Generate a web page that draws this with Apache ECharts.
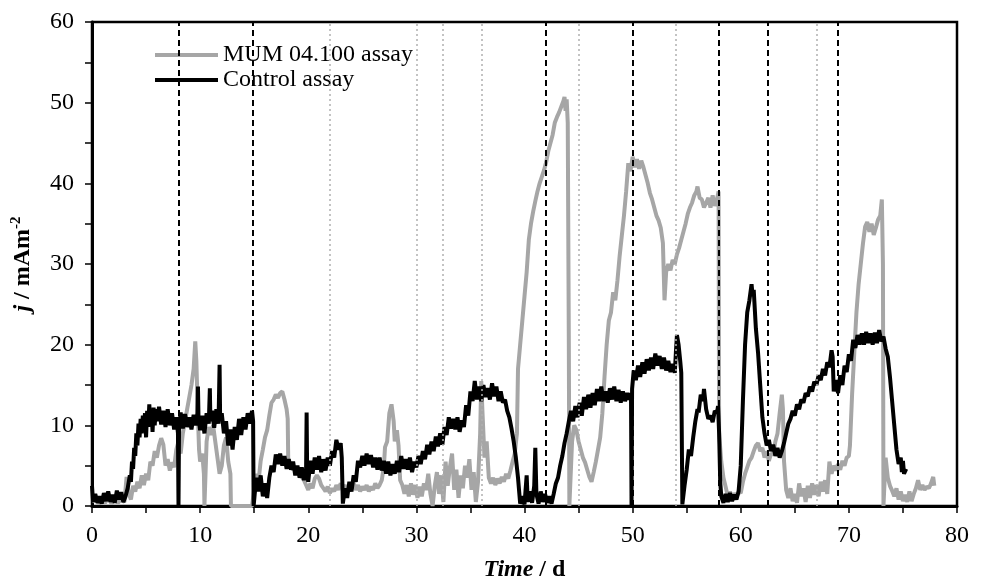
<!DOCTYPE html>
<html>
<head>
<meta charset="utf-8">
<script src="https://cdn.jsdelivr.net/npm/echarts@6/dist/echarts.min.js"></script>
<style>html,body{margin:0;padding:0;background:#fff}#c{width:981px;height:579px}</style>
</head>
<body>
<div id="c"></div>
<script>
// Tick settings
const xTicks = {min: 0, max: 80, interval: 10};
const yTicks = {min: 0, max: 60, interval: 10};

// Event markers (days)
const blackDashedDays = [8, 14.9, 42, 50, 58, 62.5, 69];
const grayDottedDays = [22, 30, 32.4, 36, 45, 54, 67];

// Series names
const seriesNames = ['MUM 04.100 assay', 'Control assay'];

// Control assay: [time (d), j (mA m^-2)]
const controlAssay = [
[0,2.5],[0.1,0.5],[0.3,1.5],[0.5,0.4],[0.7,1.2],[0.9,0.3],[1.1,1.6],[1.3,0.6],[1.5,1.8],[1.7,0.5],[1.9,1.4],[2.1,0.4],[2.3,1.9],[2.5,0.8],[2.7,1.7],[2.9,0.5],[3.1,1.2],[3.3,2.2],[3.5,3.8],[3.6,3.0],[3.7,5.5],[3.8,4.6],[3.9,7.2],[4.0,6.2],[4.1,9.0],[4.2,7.5],[4.3,10.2],[4.4,8.5],[4.5,10.8],[4.6,9.0],[4.7,11.2],[4.8,9.6],[4.9,11.5],[5.0,8.5],[5.1,11.8],[5.2,9.8],[5.3,12.6],[5.4,10.2],[5.5,11.9],[5.6,9.2],[5.7,12.2],[5.8,10.0],[5.9,12.0],[6.0,10.5],[6.2,12.3],[6.4,10.1],[6.6,11.8],[6.8,9.8],[7.0,12.0],[7.2,10.0],[7.4,11.5],[7.6,9.5],[7.8,11.0],[7.95,9.0],[8.0,0],[8.05,9.5],[8.2,11.6],[8.4,9.6],[8.6,11.4],[8.8,9.8],[9.0,11.0],[9.2,9.5],[9.4,11.3],[9.6,10.0],[9.75,11.5],[9.8,14.8],[9.85,11.0],[10.0,9.4],[10.2,11.2],[10.4,9.0],[10.6,11.5],[10.8,10.2],[10.9,14.6],[10.95,10.5],[11.1,11.8],[11.3,9.7],[11.5,12.0],[11.7,10.2],[11.8,17.5],[11.85,10.8],[12.0,11.5],[12.2,9.0],[12.4,10.5],[12.6,7.5],[12.8,9.5],[13.0,7.0],[13.2,9.8],[13.4,8.2],[13.6,10.8],[13.8,8.8],[14.0,11.0],[14.2,9.5],[14.4,11.5],[14.6,10.2],[14.8,11.8],[14.9,10.5],[14.95,0],[15.05,1.5],[15.2,3.5],[15.4,1.8],[15.6,3.8],[15.8,1.2],[16.0,2.8],[16.2,1.0],[16.4,3.5],[16.6,5.0],[16.8,4.2],[17.0,6.4],[17.2,5.2],[17.4,6.5],[17.6,5.0],[17.8,6.2],[18.0,4.6],[18.2,5.8],[18.4,4.5],[18.6,5.5],[18.8,3.8],[19.0,5.0],[19.2,3.5],[19.4,4.8],[19.6,3.2],[19.8,4.5],[19.85,11.6],[19.9,4.0],[20.0,3.0],[20.2,5.6],[20.4,4.0],[20.6,6.0],[20.8,4.5],[21.0,6.2],[21.2,4.2],[21.4,5.8],[21.6,4.4],[21.8,6.0],[22.0,5.0],[22.2,6.8],[22.4,6.0],[22.6,8.2],[22.8,7.0],[23.0,7.8],[23.1,6.0],[23.2,0.3],[23.4,2.2],[23.6,1.0],[23.8,3.0],[24.0,1.8],[24.2,3.8],[24.4,3.0],[24.6,5.6],[24.8,4.8],[25.0,6.2],[25.2,5.0],[25.4,6.5],[25.6,5.2],[25.8,6.3],[26.0,4.8],[26.2,6.0],[26.4,4.5],[26.6,6.0],[26.8,4.4],[27.0,5.6],[27.2,4.0],[27.4,5.5],[27.6,3.8],[27.8,5.2],[28.0,4.0],[28.2,5.6],[28.4,4.2],[28.6,6.2],[28.8,4.6],[29.0,5.8],[29.2,4.5],[29.4,6.0],[29.6,4.2],[29.8,5.5],[30.0,4.8],[30.2,6.2],[30.4,5.2],[30.6,6.8],[30.8,5.8],[31.0,7.6],[31.2,6.4],[31.4,8.0],[31.6,6.8],[31.8,8.6],[32.0,7.4],[32.2,9.0],[32.4,7.6],[32.6,9.8],[32.8,8.8],[33.0,11.0],[33.2,9.6],[33.4,10.8],[33.6,9.5],[33.8,11.0],[34.0,9.2],[34.2,10.6],[34.4,9.8],[34.6,12.5],[34.8,11.2],[35.0,14.2],[35.2,13.0],[35.4,15.5],[35.6,13.2],[35.8,14.8],[36.0,13.0],[36.2,15.0],[36.4,13.5],[36.6,14.6],[36.8,13.2],[37.0,15.2],[37.2,13.6],[37.4,14.8],[37.6,13.0],[37.8,14.2],[38.0,12.8],[38.2,13.2],[38.4,11.8],[38.6,11.0],[38.8,9.6],[39.0,8.0],[39.2,6.0],[39.4,3.5],[39.6,0.3],[39.8,1.2],[40.0,0.2],[40.2,3.8],[40.3,0.5],[40.5,1.8],[40.7,0.4],[40.9,2.5],[41.0,7.2],[41.1,1.5],[41.3,0.3],[41.5,1.8],[41.7,0.5],[41.9,1.5],[42.1,0.4],[42.3,1.2],[42.5,0.3],[42.7,1.5],[42.9,2.8],[43.1,3.5],[43.3,5.0],[43.5,6.2],[43.7,7.8],[43.9,9.0],[44.1,10.5],[44.3,11.8],[44.5,10.5],[44.7,12.4],[44.9,11.0],[45.1,12.8],[45.3,11.2],[45.5,13.5],[45.7,12.0],[45.9,13.8],[46.1,12.2],[46.3,14.0],[46.5,12.5],[46.7,14.5],[46.9,13.0],[47.1,14.8],[47.3,13.0],[47.5,14.2],[47.7,12.8],[47.9,14.6],[48.1,13.2],[48.3,14.8],[48.5,13.0],[48.7,14.4],[48.9,12.8],[49.1,14.2],[49.3,13.0],[49.5,14.0],[49.7,13.2],[49.85,14.0],[49.9,0],[49.95,14.5],[50.1,16.8],[50.3,15.6],[50.5,17.4],[50.7,16.0],[50.9,17.8],[51.1,16.4],[51.3,18.2],[51.5,16.8],[51.7,18.4],[51.9,17.0],[52.1,18.9],[52.3,17.4],[52.5,18.6],[52.7,17.0],[52.9,18.4],[53.1,16.8],[53.3,18.0],[53.5,16.6],[53.7,17.6],[53.9,16.5],[54.0,19.0],[54.1,21.2],[54.25,20.0],[54.4,18.0],[54.5,16.5],[54.6,0.2],[54.8,2.5],[55.0,4.5],[55.2,7.0],[55.4,6.2],[55.6,8.5],[55.8,10.5],[56.0,12.0],[56.1,11.6],[56.3,13.8],[56.5,13.0],[56.6,14.5],[56.8,12.0],[57.0,10.8],[57.2,11.2],[57.4,10.4],[57.6,11.8],[57.8,11.5],[57.9,12.4],[58.0,9.0],[58.1,3.0],[58.2,1.2],[58.4,0.4],[58.6,1.5],[58.8,0.5],[59.0,1.6],[59.2,0.6],[59.4,1.4],[59.6,0.8],[59.8,1.8],[60.0,5.0],[60.2,13.0],[60.4,20.0],[60.6,24.0],[60.8,25.5],[61.0,27.5],[61.1,26.0],[61.2,26.8],[61.4,22.0],[61.6,19.0],[61.8,15.0],[62.0,11.0],[62.2,9.0],[62.4,7.5],[62.6,8.2],[62.8,6.8],[63.0,7.6],[63.2,6.2],[63.4,7.2],[63.6,6.0],[63.8,6.8],[64.0,7.8],[64.2,9.0],[64.4,10.2],[64.6,10.8],[64.8,11.8],[65.0,11.2],[65.2,12.6],[65.4,12.0],[65.6,13.2],[65.8,12.8],[66.0,14.0],[66.2,13.6],[66.4,14.8],[66.6,14.2],[66.8,15.4],[67.0,15.0],[67.2,16.2],[67.4,15.6],[67.6,17.0],[67.8,16.2],[68.0,17.8],[68.2,17.2],[68.4,19.3],[68.5,18.5],[68.6,14.2],[68.8,15.6],[69.0,14.0],[69.2,16.2],[69.4,15.0],[69.6,17.4],[69.8,16.6],[70.0,18.8],[70.2,18.0],[70.4,20.6],[70.6,19.6],[70.8,21.2],[71.0,20.0],[71.2,21.4],[71.4,20.0],[71.6,21.6],[71.8,20.2],[72.0,21.4],[72.2,20.0],[72.4,21.5],[72.6,20.2],[72.8,21.8],[73.0,20.4],[73.2,21.0],[73.4,19.5],[73.6,18.5],[73.8,16.0],[74.0,13.0],[74.2,10.0],[74.4,7.0],[74.6,5.2],[74.8,6.0],[74.9,4.2],[75.0,5.6],[75.1,4.0],[75.3,4.6]
];

// MUM 04.100 assay: [time (d), j (mA m^-2)]
const mumAssay = [
[0,0.5],[0.3,1.0],[0.6,0.3],[0.9,0.8],[1.2,0.4],[1.5,1.0],[1.8,0.3],[2.1,0.9],[2.4,0.4],[2.7,0.8],[3.0,0.5],[3.2,3.6],[3.4,1.5],[3.6,0.8],[3.8,2.5],[4.0,1.8],[4.2,3.0],[4.4,2.2],[4.6,3.8],[4.8,2.6],[5.0,4.0],[5.2,3.2],[5.4,5.5],[5.6,5.0],[5.8,6.8],[6.0,6.0],[6.2,7.5],[6.4,8.4],[6.6,7.6],[6.8,5.0],[7.0,5.8],[7.2,4.4],[7.4,5.4],[7.6,4.8],[7.8,7.0],[8.0,8.0],[8.2,6.5],[8.4,9.0],[8.6,10.5],[8.8,12.0],[9.0,13.5],[9.2,15.0],[9.4,17.0],[9.55,20.4],[9.65,18.0],[9.8,11.0],[9.9,7.0],[10.0,5.5],[10.2,6.5],[10.35,4.0],[10.4,0],[10.5,0],[10.6,8.0],[10.8,9.8],[11.0,8.8],[11.2,10.0],[11.4,8.0],[11.6,6.0],[11.8,4.0],[12.0,5.0],[12.2,7.5],[12.4,8.5],[12.6,5.5],[12.8,4.0],[12.85,0],[14.8,0],[15.0,2.0],[15.2,4.0],[15.4,3.0],[15.6,5.6],[15.8,7.0],[16.0,8.5],[16.2,9.4],[16.4,11.2],[16.6,12.8],[16.8,13.2],[17.0,13.8],[17.2,13.4],[17.4,14.0],[17.6,14.2],[17.8,13.2],[18.0,12.0],[18.1,10.8],[18.15,5.6],[18.4,5.0],[18.6,4.5],[18.8,4.8],[19.0,4.2],[19.2,4.6],[19.4,3.6],[19.6,3.2],[19.8,2.6],[20.0,2.0],[20.2,2.8],[20.4,2.2],[20.6,3.4],[20.8,3.8],[21.0,3.4],[21.2,2.6],[21.4,2.2],[21.6,1.8],[21.8,2.4],[22.0,1.6],[22.2,2.2],[22.4,1.8],[22.6,2.6],[22.8,2.0],[23.0,2.8],[23.2,2.2],[23.4,2.6],[23.6,1.8],[23.8,2.6],[24.0,2.2],[24.2,2.8],[24.4,2.0],[24.6,2.6],[24.8,1.8],[25.0,2.4],[25.2,2.0],[25.4,2.6],[25.6,1.8],[25.8,2.4],[26.0,2.0],[26.2,2.8],[26.4,2.2],[26.6,2.6],[26.8,3.2],[27.0,5.0],[27.1,7.3],[27.3,8.0],[27.5,11.5],[27.7,12.6],[27.9,10.5],[28.0,8.0],[28.2,9.4],[28.35,7.5],[28.5,3.2],[28.7,2.6],[28.9,1.5],[29.1,2.6],[29.3,1.2],[29.5,2.8],[29.7,1.4],[29.9,2.6],[30.1,1.0],[30.3,2.4],[30.5,1.2],[30.7,2.8],[30.9,2.0],[31.1,4.0],[31.3,1.5],[31.5,0.0],[31.7,2.5],[31.9,4.2],[32.1,1.5],[32.3,3.8],[32.5,0.5],[32.7,5.5],[32.9,2.5],[33.1,4.8],[33.3,6.5],[33.5,2.0],[33.7,4.5],[33.9,1.0],[34.1,3.8],[34.3,2.2],[34.5,5.0],[34.7,3.5],[34.9,5.8],[35.1,2.0],[35.3,4.2],[35.5,0.5],[35.7,3.0],[35.9,9.0],[36.0,15.5],[36.1,12.0],[36.3,6.0],[36.5,8.0],[36.7,3.5],[36.9,2.8],[37.1,3.5],[37.3,2.6],[37.5,3.4],[37.7,2.8],[37.9,3.6],[38.1,3.0],[38.3,4.0],[38.5,3.4],[38.7,4.4],[38.9,5.5],[39.1,6.5],[39.3,9.0],[39.4,17.0],[39.6,20.0],[39.8,23.0],[40.0,26.0],[40.2,29.0],[40.4,33.0],[40.6,35.0],[40.8,36.5],[41.0,37.8],[41.2,39.0],[41.4,40.0],[41.6,40.8],[41.8,41.6],[42.0,42.6],[42.2,44.0],[42.4,45.0],[42.6,46.0],[42.8,47.5],[43.0,48.2],[43.2,48.8],[43.4,49.5],[43.6,50.2],[43.7,50.7],[43.8,49.0],[43.9,50.4],[44.0,47.5],[44.1,20.0],[44.15,0],[44.3,0],[44.4,8.0],[44.6,10.0],[44.8,9.4],[45.0,8.0],[45.2,7.0],[45.4,6.0],[45.6,5.4],[45.8,4.5],[46.0,3.6],[46.2,3.0],[46.4,4.2],[46.6,5.5],[46.8,7.0],[47.0,8.5],[47.2,11.5],[47.4,16.0],[47.6,20.0],[47.8,23.0],[48.0,24.0],[48.2,26.5],[48.4,25.5],[48.6,28.0],[48.8,31.0],[49.0,33.5],[49.2,36.0],[49.4,39.0],[49.6,42.5],[49.8,41.5],[50.0,43.3],[50.2,42.0],[50.4,43.0],[50.6,41.8],[50.8,42.8],[51.0,42.0],[51.2,41.0],[51.4,40.0],[51.6,38.8],[51.8,38.0],[52.0,37.0],[52.2,36.0],[52.4,35.4],[52.6,34.5],[52.8,32.6],[52.95,25.5],[53.1,29.0],[53.3,30.0],[53.5,29.2],[53.7,30.5],[53.9,30.0],[54.1,31.2],[54.3,32.0],[54.5,33.0],[54.7,34.0],[54.9,35.0],[55.1,36.2],[55.3,37.0],[55.5,37.6],[55.7,38.5],[55.9,39.0],[56.0,39.6],[56.2,38.2],[56.4,38.0],[56.6,37.0],[56.8,37.6],[57.0,38.2],[57.2,37.0],[57.4,38.5],[57.6,37.2],[57.8,38.0],[57.95,39.0],[58.0,9.0],[58.2,5.5],[58.4,3.5],[58.6,2.4],[58.8,1.2],[59.0,1.8],[59.2,0.8],[59.4,1.6],[59.6,1.0],[59.8,1.8],[60.0,1.6],[60.2,3.0],[60.4,4.0],[60.6,4.8],[60.8,5.6],[61.0,6.0],[61.2,6.8],[61.4,7.5],[61.6,7.8],[61.8,6.8],[62.0,7.2],[62.2,6.0],[62.4,6.8],[62.6,5.6],[62.8,6.5],[63.0,6.4],[63.2,8.0],[63.4,9.0],[63.6,11.5],[63.8,13.8],[63.9,12.0],[64.0,5.6],[64.2,2.0],[64.4,1.0],[64.6,2.2],[64.8,0.6],[65.0,1.5],[65.2,0.4],[65.4,2.8],[65.6,1.2],[65.8,2.2],[66.0,0.5],[66.2,2.5],[66.4,1.0],[66.6,2.8],[66.8,1.4],[67.0,2.6],[67.2,1.2],[67.4,3.0],[67.6,1.8],[67.8,3.2],[68.0,1.5],[68.2,5.5],[68.4,4.0],[68.6,5.0],[68.8,4.4],[69.0,5.2],[69.2,4.5],[69.4,5.6],[69.6,5.0],[69.8,6.0],[70.0,6.2],[70.1,7.5],[70.3,13.9],[70.5,19.0],[70.7,24.0],[70.9,27.5],[71.1,30.0],[71.3,32.5],[71.5,34.6],[71.7,35.2],[71.9,34.0],[72.1,35.0],[72.3,33.6],[72.5,34.5],[72.7,35.5],[72.9,36.0],[73.05,38.0],[73.15,30.0],[73.2,0],[73.3,0],[73.4,6.0],[73.6,3.5],[73.8,2.5],[74.0,1.9],[74.2,1.2],[74.4,2.2],[74.6,0.8],[74.8,1.8],[75.0,0.6],[75.2,1.4],[75.4,0.5],[75.6,1.8],[75.8,0.6],[76.0,1.5],[76.2,2.2],[76.4,3.2],[76.6,2.0],[76.8,2.6],[77.0,2.0],[77.2,2.4],[77.4,2.2],[77.6,2.8],[77.8,3.6],[77.9,2.5]
];

const FONT = 'Liberation Serif';
const chart = echarts.init(document.getElementById('c'), null, {renderer: 'canvas'});

const vLines = blackDashedDays.map(d => ({xAxis: d, lineStyle: {color: '#000', type: [6, 4], width: 2}}))
  .concat(grayDottedDays.map(d => ({xAxis: d, lineStyle: {color: '#b0b0b0', type: [2, 3], width: 1.5}})));

chart.setOption({
  animation: false,
  backgroundColor: '#fff',
  textStyle: {fontFamily: FONT},
  grid: {left: 92, right: 24, top: 22, bottom: 73, containLabel: false, outerBoundsMode: 'none',
    show: true, borderColor: '#000', borderWidth: 2.5, backgroundColor: 'transparent'},
  legend: {
    data: seriesNames,
    orient: 'vertical',
    left: 150, top: 40,
    icon: 'rect',
    itemWidth: 63, itemHeight: 4, itemGap: 1,
    padding: [3, 45, 4, 5],
    backgroundColor: '#fff',
    textStyle: {fontFamily: FONT, fontSize: 24, color: '#000', lineHeight: 24}
  },
  xAxis: {
    type: 'value', min: xTicks.min, max: xTicks.max, interval: xTicks.interval,
    name: '{it|Time}{b| / d}', nameLocation: 'middle', nameGap: 52,
    nameTextStyle: {rich: {
      it: {fontFamily: FONT, fontSize: 24, fontWeight: 'bold', fontStyle: 'italic', color: '#000'},
      b: {fontFamily: FONT, fontSize: 24, fontWeight: 'bold', color: '#000'}
    }},
    axisLine: {lineStyle: {color: '#000', width: 3}},
    axisTick: {show: true, inside: false, length: 7, lineStyle: {color: '#000', width: 1.5}},
    minorTick: {show: true, splitNumber: 2, length: 7, lineStyle: {color: '#000', width: 1.5}},
    splitLine: {show: false},
    axisLabel: {fontFamily: FONT, fontSize: 24, color: '#000', margin: 18}
  },
  yAxis: {
    type: 'value', min: yTicks.min, max: yTicks.max, interval: yTicks.interval,
    name: '{it|j}{b| / mAm}{sup|-2}', nameLocation: 'middle', nameGap: 56, nameRotate: 90,
    nameTextStyle: {rich: {
      it: {fontFamily: FONT, fontSize: 24, fontWeight: 'bold', fontStyle: 'italic', color: '#000'},
      b: {fontFamily: FONT, fontSize: 24, fontWeight: 'bold', color: '#000'},
      sup: {fontFamily: FONT, fontSize: 15, fontWeight: 'bold', color: '#000', padding: [0, 0, 12, 0]}
    }},
    axisLine: {show: true, lineStyle: {color: '#000', width: 3}},
    axisTick: {show: true, inside: false, length: 7, lineStyle: {color: '#000', width: 1.5}},
    minorTick: {show: true, splitNumber: 2, length: 7, lineStyle: {color: '#000', width: 1.5}},
    splitLine: {show: false},
    axisLabel: {fontFamily: FONT, fontSize: 24, color: '#000', margin: 18}
  },
  series: [
    {
      name: seriesNames[0], type: 'line', data: mumAssay, symbol: 'none',
      lineStyle: {color: '#a6a6a6', width: 4}, itemStyle: {color: '#a6a6a6'}, z: 2
    },
    {
      name: seriesNames[1], type: 'line', data: controlAssay, symbol: 'none',
      lineStyle: {color: '#000', width: 4}, itemStyle: {color: '#000'}, z: 2
    },
    {
      name: 'markers', type: 'line', data: [], z: 3, silent: true,
      markLine: {silent: true, symbol: 'none', label: {show: false}, animation: false, data: vLines}
    }
  ]
});
</script>
</body>
</html>
